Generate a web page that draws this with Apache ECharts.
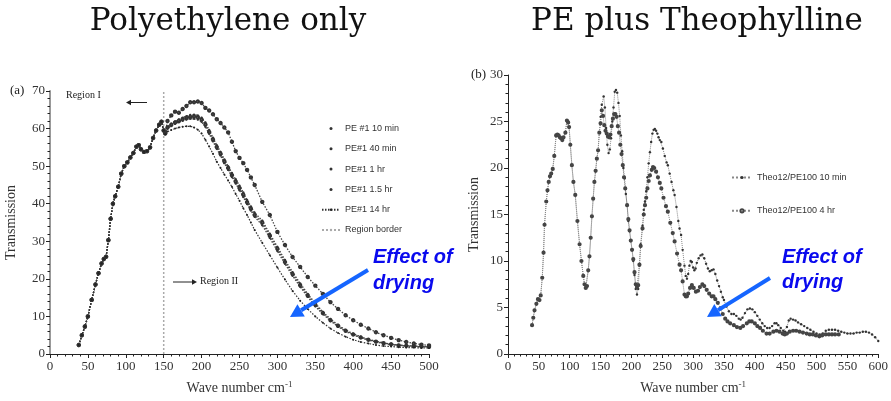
<!DOCTYPE html>
<html><head><meta charset="utf-8">
<script src="https://cdn.jsdelivr.net/npm/echarts@6/dist/echarts.min.js"></script>
<style>html,body{margin:0;padding:0;background:#fff}#c{width:891px;height:401px}</style>
</head><body><div id="c"></div><script>
// ---------- Panel (a): Polyethylene only ----------
var peCommonX = [38,42,46,50,55,60,64,68,71,74,77,80,83,86,90,94,98,102,106,110,114,117,120,124,128,132,136,140,144,147,150];
var peCommonY = [2.4,5,7.3,10,14.4,18.5,21.5,24.1,25.3,25.9,30.3,36,40,42,44.5,48,50,51,52.3,53.5,55.2,55.6,54.5,53.8,54,55,57.5,59.5,61,61.8,59.5];

var peTailX = [152,155,160,165,170,175,180,185,190,195,200,205,210,215,220,225,230,235,240,245,250,255,260,265,270,280,290,300,310,320,330,340,350,360,370,380,390,400,410,420,430,440,450,460,470,480,490,500];
var pe10min = [58.7,62,63.5,64.5,64.2,65.2,66,67,67,67.2,66.8,65.5,64.8,63.8,62.5,61.5,60.3,59,56.5,54,52.2,50.8,49,47,45,40.5,37,32.5,29,25.8,23.2,20.5,18.2,16,13.8,12,10.3,9,7.8,6.8,5.8,5,4.3,3.7,3.2,2.8,2.5,2.3];
var pe40min = [58.8,60.5,61.3,61.9,62.4,62.9,63.3,63.6,63.7,63.5,62.9,61.6,59.6,57.6,55.6,53.8,51.8,50,48.2,46.5,44.8,43,41,39.3,37.6,35.5,32,28.5,25,21.8,18.8,16,13.5,11.2,9.3,7.7,6.4,5.4,4.6,3.9,3.4,3,2.6,2.4,2.2,2.1,2,1.9];
var pe1hr   = [58.8,60.3,61,61.6,62.1,62.5,62.8,63.1,63.2,63,62.4,61.1,59.1,57.1,55.1,53.3,51.3,49.5,47.6,45.9,44.2,42.4,40.4,38.7,37,35,31.5,28,24.5,21.3,18.3,15.6,13.1,10.9,9,7.5,6.2,5.2,4.4,3.8,3.3,2.9,2.6,2.3,2.2,2.1,2,1.9];
var pe15hr  = [58.7,60,60.7,61.3,61.7,62.1,62.4,62.6,62.6,62.4,61.8,60.5,58.6,56.6,54.6,52.8,50.8,49,47.1,45.4,43.6,41.8,39.9,38.2,36.5,34.3,30.9,27.4,24,20.8,17.9,15.2,12.7,10.6,8.8,7.3,6,5.1,4.3,3.7,3.2,2.8,2.5,2.3,2.1,2,1.9,1.9];
var pe14hr  = [58.5,59.2,59.6,60,60.3,60.5,60.6,60.6,60.3,59.7,58.7,57,55.2,53.3,51.2,49.5,47.8,46.2,44.5,42.6,40.8,38.8,37,35,33,29.6,26.3,23,19.8,16.8,14.2,12,10,8.3,6.8,5.6,4.6,3.8,3.2,2.8,2.4,2.1,2,1.8,1.7,1.7,1.6,1.6];
var regionBorder = 150;
var peNames = ['PE #1 10 min','PE#1 40 min','PE#1 1 hr','PE#1 1.5 hr','PE#1 14 hr','Region border'];

// ---------- Panel (b): PE plus Theophylline ----------
var thCommonX = [39,41,43,46,48.5,51,53,55.5,57.6,59.2,62,64,66,68,70,72.5,75,78,80,82,84,86,88,90,93,95.5,97.5,99,101,103.5,106,109,112.5,116,119,122,124,126,128,130,132,134,136,138,140,142,144,146,148];
var thCommonY = [3.1,3.9,4.7,5.4,5.9,5.8,6.3,8.2,10.9,13.9,16.4,17.6,18.5,19.1,19.4,19.9,21.3,23.5,23.6,23.5,23.3,23.2,23,23.3,23.8,25.1,24.9,24.4,22.5,20.3,18.5,17.1,14.3,11.8,10,8.4,7.5,7.1,7.3,9,10.5,12.5,14.8,16.7,18.5,19.7,21,21.9,23.8];
var th10minX = [150,152,155,157,159,161,163,165,167,169,171,173,175,177,179,181,183,185,187,189,191,193,195,197,199,201,203,205,207,209,211,213,215,218,220,222,224,226,228,230,232,234,236,238,240,242,244,246,248.5,251,254,257,259,262,265,268,270,273,276,278,280.5,283,286,288,290,292,294,296,298,300,302,304,306,309,312,315,318,321,324,327,330,333,336,339,342,345,348,350,354,358,362,366,370,374,377,380,384,388,392,396,400,404,408,412,416,420,424,428,432,435,438,442,446,449,452,455,458,462,466,470,475,480,485,490,495,500,505,510,515,520,525,530,535,540,545,550,555,560,565,570,575,580,585,590,595,600];
var th10minY = [25.5,26.8,27.7,26.5,24.3,22.5,21.6,22,23.2,25,26.5,28.2,28.4,28.1,27,25.6,23.5,21.8,20,18.9,17.2,16,14.3,13.2,12.2,11.2,10,8.5,7,6.4,7,9.5,11.8,13.8,15.5,16.4,17.5,19,20.5,21.7,22.8,23.7,24.1,24.2,24,23.7,23.3,23,22.8,22.1,21.3,20.6,20.3,19.4,18.5,17.6,17.1,15.8,14.3,13.5,12.8,11.2,9.5,8.4,8.1,8.6,9.5,10,9.9,9.3,9,9.2,9.8,10.3,10.6,10.7,10.3,9.7,9.2,8.9,9,9.1,8.6,7.9,7.3,6.7,6.1,5.8,5.1,4.6,4.3,4.3,4.1,3.8,3.7,3.9,4.4,4.8,4.9,4.8,4.5,4.1,3.7,3.3,3,2.8,2.8,3,3.3,3.3,3.1,2.8,2.5,2.4,2.9,3.6,3.8,3.7,3.6,3.4,3.2,3,2.8,2.6,2.4,2.2,2.1,2.2,2.5,2.6,2.6,2.6,2.5,2.4,2.3,2.2,2.2,2.2,2.3,2.3,2.4,2.4,2.3,2.1,1.8,1.4];
var th4hrX = [150,152,154,156,158,160,162,164,166,168,170,172,174,176,178,180,182,184,186,188,190,193,195,197,199,201,203,205,207,209,211,213,215,218,220,222,224,226,228,230,233,235,237,240,243,246,248.5,252,256,259,263,267,270,274,278,280.5,283,286,288,290,292,295,298,301,304.5,308,311,315,318,322,326,330,333,336,340,344.5,348,352,355.7,360,366,371,376.5,381,387,391,395,400,404,408.5,413,419,424,430,435,440,445,448.5,452,456.5,462,467,472.5,478,484,489,494,499,504.5,509,515,520,525,530,536];
var th4hrY = [24.8,26.2,25.6,24.6,24,23.7,23.4,23.3,23.6,24.5,25.3,25.8,25.8,25.5,24.5,23.8,22.5,21.5,20.3,19,17.8,16,14.5,13.3,12.2,11.2,10.2,8.8,7.5,7.2,7.4,9.6,11.6,13.5,15,16,16.8,17.8,18.6,19.2,19.8,20.1,20,19.6,19,18.4,17.8,16.8,15.9,15.3,14.1,13,12.1,10.8,9.6,9,7.8,6.4,6.2,6.2,6.5,7.1,7.4,7.1,6.7,6.8,7.2,7.5,7.3,6.9,6.5,6.2,6.2,5.9,5.5,4.9,4.3,3.8,3.5,3.3,3.1,2.9,2.8,3,3.3,3.5,3.5,3.3,3,2.8,2.5,2.2,2.2,2.4,2.5,2.4,2.2,2.1,2.2,2.4,2.5,2.5,2.4,2.3,2.2,2.1,2.1,2,1.9,2,2.1,2.1,2.1,2.1,2.1];
var thNames = ['Theo12/PE100 10 min','Theo12/PE100 4 hr'];

// ---------- build ----------
function pairs(xs, ys){ return xs.map(function(x,i){ return [x, ys[i]]; }); }
function withCommon(cx, cy, tx, ty){ return pairs(cx.concat(tx), cy.concat(ty)); }

var serif = 'Liberation Serif';
var sans = 'Liberation Sans';

function xAx(gi, max){
  return {gridIndex: gi, type:'value', min:0, max:max, interval:50,
    axisLine:{show:true, onZero:false, lineStyle:{color:'#222', width:1}},
    axisTick:{show:true, length:4, lineStyle:{color:'#222'}},
    minorTick:{show:true, splitNumber:5, length:2.5, lineStyle:{color:'#222'}},
    splitLine:{show:false},
    axisLabel:{fontFamily:serif, fontSize:13, color:'#333', margin:6},
    name:'Wave number cm{sup|-1}', nameLocation:'middle', nameGap:26,
    nameTextStyle:{fontFamily:serif, fontSize:14, color:'#333', lineHeight:16,
      rich:{sup:{fontFamily:serif, fontSize:9, color:'#333', verticalAlign:'top', lineHeight:10}}}
  };
}
function yAx(gi, max, interval, minorSplit, gap, lineColor, lineWidth){
  return {gridIndex: gi, type:'value', min:0, max:max, interval:interval,
    axisLine:{show:true, onZero:false, lineStyle:{color:lineColor, width:lineWidth}},
    axisTick:{show:true, length:4, lineStyle:{color:'#222'}},
    minorTick:{show:true, splitNumber:minorSplit, length:2.5, lineStyle:{color:'#222'}},
    splitLine:{show:false},
    axisLabel:{fontFamily:serif, fontSize:13, color:'#333', margin:5},
    name:'Transmission', nameLocation:'middle', nameGap:gap, nameRotate:90,
    nameTextStyle:{fontFamily:serif, fontSize:14, color:'#333'}
  };
}

var peSeriesData = [pe10min, pe40min, pe1hr, pe15hr];
var peSymbols = ['emptyCircle','circle','emptyCircle','circle'];
var series = [];
peSeriesData.forEach(function(ys, i){
  series.push({type:'line', name:peNames[i], xAxisIndex:0, yAxisIndex:0,
    data: withCommon(peCommonX, peCommonY, peTailX, ys),
    symbol: peSymbols[i], symbolSize:2.4, showSymbol:true,
    itemStyle:{color:'#333', borderWidth:peSymbols[i]==='circle'?0:0.7},
    lineStyle:{color:'#444', width:1.3, type:[1.5,1.5]}, z:3});
});
series.push({type:'line', name:peNames[4], xAxisIndex:0, yAxisIndex:0,
  data: withCommon(peCommonX, peCommonY, peTailX, pe14hr),
  symbol:'circle', symbolSize:2, showSymbol:true,
  itemStyle:{color:'#222', borderWidth:0},
  lineStyle:{color:'#333', width:1.2, type:[1.5,1.5]}, z:4});
series.push({type:'line', name:peNames[5], xAxisIndex:0, yAxisIndex:0,
  data:[[regionBorder,0],[regionBorder,70]], symbol:'none',
  itemStyle:{color:'#aaa'},
  lineStyle:{color:'#aaa', width:1.5, type:[2,2]}, z:1});

series.push({type:'line', name:thNames[0], xAxisIndex:1, yAxisIndex:1,
  data: withCommon(thCommonX, thCommonY, th10minX, th10minY),
  symbol:'circle', symbolSize:2.4, showSymbol:true,
  itemStyle:{color:'#333', borderWidth:0},
  lineStyle:{color:'#888', width:1, type:'dotted'}, z:3});
series.push({type:'line', name:thNames[1], xAxisIndex:1, yAxisIndex:1,
  data: withCommon(thCommonX, thCommonY, th4hrX, th4hrY),
  symbol:'emptyCircle', symbolSize:2.2, showSymbol:true,
  itemStyle:{color:'#444', borderWidth:0.6},
  lineStyle:{color:'#888', width:1, type:'dotted'}, z:3});

// annotation helpers
function arrowGraphic(x1,y1,x2,y2,color,width,head){
  var dx=x2-x1, dy=y2-y1, L=Math.sqrt(dx*dx+dy*dy), ux=dx/L, uy=dy/L;
  var bx=x2-ux*head, by=y2-uy*head, px=-uy*head*0.55, py=ux*head*0.55;
  return [
    {type:'line', shape:{x1:x1,y1:y1,x2:bx,y2:by}, style:{stroke:color, lineWidth:width}, z:50},
    {type:'polygon', shape:{points:[[x2,y2],[bx+px,by+py],[bx-px,by-py]]}, style:{fill:color}, z:50}
  ];
}
function txt(x,y,t,font,fill,align){
  return {type:'text', x:x, y:y, z:60, style:{text:t, font:font, fill:fill||'#222', textAlign:align||'left', textVerticalAlign:'middle'}};
}
var blue='#0a0aee', arrowBlue='#1565ff';
var graphics = [
  txt(228,22,'Polyethylene only','31px "DejaVu Serif"','#111','center'),
  txt(697,22,'PE plus Theophylline','31px "DejaVu Serif"','#111','center'),
  txt(10,91,'(a)','13px "Liberation Serif"','#222'),
  txt(471,75,'(b)','13px "Liberation Serif"','#222'),
  txt(66,95,'Region I','10px "Liberation Serif"','#222'),
  txt(200,281,'Region II','10px "Liberation Serif"','#222'),
  txt(373,257,'Effect of','italic bold 20px "Liberation Sans"',blue),
  txt(373,283,'drying','italic bold 20px "Liberation Sans"',blue),
  txt(782,257,'Effect of','italic bold 20px "Liberation Sans"',blue),
  txt(782,282,'drying','italic bold 20px "Liberation Sans"',blue)
].concat(arrowGraphic(147,102.5,126,102.5,'#222',1,5))
 .concat(arrowGraphic(173,282,197,282,'#222',1,5))
 .concat(arrowGraphic(368,270,290,317,arrowBlue,4,13))
 .concat(arrowGraphic(770,278,707,317,arrowBlue,4,13));

var chart = echarts.init(document.getElementById('c'), null, {renderer:'canvas'});
chart.setOption({
  animation:false,
  backgroundColor:'#fff',
  grid:[{left:50, top:91, width:379, height:263},{left:508, top:75, width:375, height:283}],
  xAxis:[xAx(0,500), xAx(1,600)],
  yAxis:[yAx(0,70,10,5,32,'#999',2), yAx(1,30,5,5,27,'#222',1)],
  legend:[
    {left:316, top:119, orient:'vertical', itemWidth:18, itemHeight:3, itemGap:11.3,
     textStyle:{fontFamily:sans, fontSize:9, color:'#333'},
     data:[{name:peNames[0],icon:'circle'},{name:peNames[1],icon:'circle'},{name:peNames[2],icon:'circle'},{name:peNames[3],icon:'circle'},{name:peNames[4]},{name:peNames[5]}]},
    {left:726, top:168, orient:'vertical', itemWidth:20, itemHeight:4, itemGap:24.3,
     textStyle:{fontFamily:sans, fontSize:9, color:'#333'},
     data:thNames}
  ],
  series: series,
  graphic: graphics
});
</script></body></html>
